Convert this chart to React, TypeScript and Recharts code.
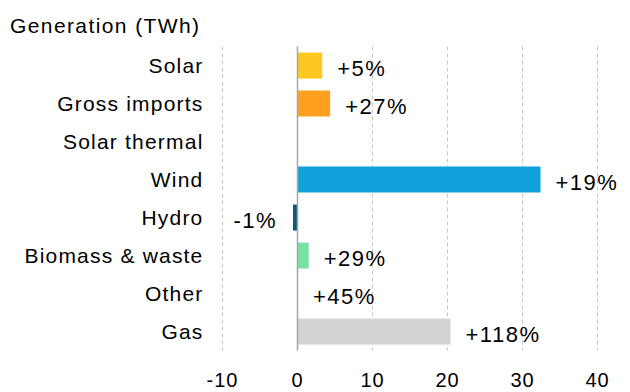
import { BarChart, Bar, XAxis, YAxis, CartesianGrid, ReferenceLine, Cell, LabelList } from "recharts";

const categories = ["Solar", "Gross imports", "Solar thermal", "Wind", "Hydro", "Biomass & waste", "Other", "Gas"];
const generationTwh = [3.3, 4.35, 0, 32.4, -0.6, 1.5, 0.05, 20.4];
const changeLabels = ["+5%", "+27%", "", "+19%", "-1%", "+29%", "+45%", "+118%"];
const barColors = ["#FFC820", "#FF9F1F", "#FFFFFF", "#0F9FDA", "#0B5A78", "#78E2A5", "#BFBFBF", "#D3D3D3"];
const xTicks = [-10, 0, 10, 20, 30, 40];

const data = categories.map((name, i) => ({ name, value: generationTwh[i], change: changeLabels[i] }));

const FONT = '"Liberation Sans", Arial, sans-serif';

const renderChange = (props: any) => {
  const { x, y, width, height, value } = props;
  const text = String(value ?? "");
  if (!text) return null;
  const left = Math.min(x, x + width);
  const right = Math.max(x, x + width);
  const neg = text.startsWith("-");
  return (
    <text
      x={neg ? left - 16 : right + 15}
      y={y + height / 2 + 10}
      textAnchor={neg ? "end" : "start"}
      fontSize={22}
      fontFamily={FONT}
      letterSpacing={1.5}
      fill="#000"
    >
      {text}
    </text>
  );
};

export default function App() {
  return (
    <div style={{ position: "absolute", left: 0, top: 0, width: 630, height: 392, background: "#fff", fontFamily: FONT }}>
      <div style={{ position: "absolute", left: 10, top: 16, fontSize: 21, lineHeight: "20px", letterSpacing: 1.4, color: "#000" }}>
        Generation (TWh)
      </div>
      <BarChart
        width={630}
        height={392}
        data={data}
        layout="vertical"
        margin={{ top: 46.5, right: 32.5, bottom: 11.5, left: 0 }}
        barCategoryGap="16%"
      >
        <CartesianGrid horizontal={false} stroke="#c6c6c6" strokeDasharray="4 3" />
        <XAxis
          type="number"
          domain={[-10, 40]}
          ticks={xTicks}
          axisLine={false}
          tickLine={false}
          height={30}
          tickMargin={16}
          tick={{ fontSize: 20, fill: "#000", fontFamily: FONT, letterSpacing: 1 }}
        />
        <YAxis
          type="category"
          dataKey="name"
          width={222.5}
          axisLine={false}
          tickLine={false}
          tickMargin={13}
          interval={0}
          tick={{ fontSize: 21, fill: "#000", fontFamily: FONT, letterSpacing: 1.2 }}
        />
        <ReferenceLine x={0} stroke="#a6a6a6" strokeWidth={1.5} />
        <Bar dataKey="value" isAnimationActive={false}>
          {data.map((d, i) => (
            <Cell key={d.name} fill={barColors[i]} />
          ))}
          <LabelList dataKey="change" content={renderChange} />
        </Bar>
      </BarChart>
    </div>
  );
}
